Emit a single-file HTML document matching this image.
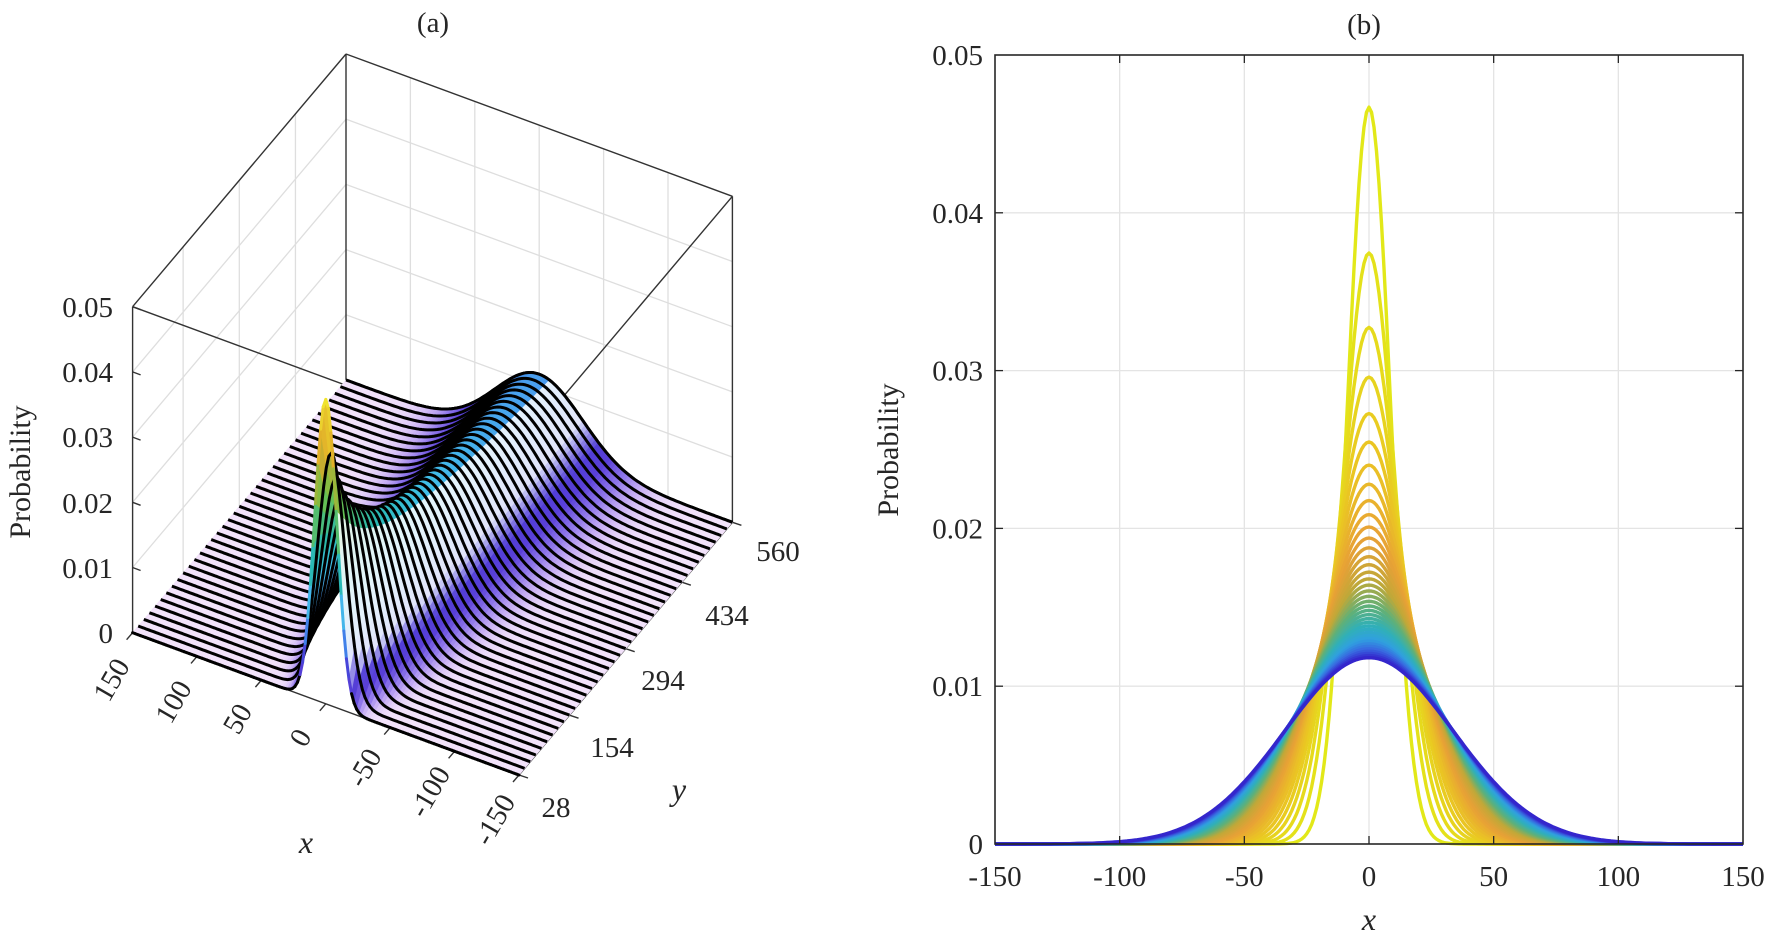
<!DOCTYPE html>
<html><head><meta charset="utf-8">
<style>
html,body{margin:0;padding:0;background:#fff;}
svg{display:block;font-family:"Liberation Serif",serif;}
</style></head>
<body>
<svg id="s" width="1770" height="937" viewBox="0 0 1770 937" xmlns="http://www.w3.org/2000/svg">
<rect width="1770" height="937" fill="#fff"/>
<g id="a"></g>
<g id="b"></g>
<g font-size="29" fill="#262626">
<text x="433" y="32" text-anchor="middle">(a)</text>
<text x="1364" y="34" text-anchor="middle">(b)</text>
<text transform="translate(30,472) rotate(-90)" text-anchor="middle" font-size="30">Probability</text>
<text transform="translate(898,450) rotate(-90)" text-anchor="middle" font-size="30">Probability</text>
<g text-anchor="end">
<text x="113" y="643">0</text>
<text x="113" y="578">0.01</text>
<text x="113" y="513">0.02</text>
<text x="113" y="447">0.03</text>
<text x="113" y="382">0.04</text>
<text x="113" y="317">0.05</text>
</g>
<g text-anchor="middle">
<text transform="translate(112,680) rotate(-60)" dy="9">150</text>
<text transform="translate(174,702) rotate(-60)" dy="9">100</text>
<text transform="translate(238,719) rotate(-60)" dy="9">50</text>
<text transform="translate(301,738) rotate(-60)" dy="9">0</text>
<text transform="translate(365,768) rotate(-60)" dy="9">-50</text>
<text transform="translate(430,792) rotate(-60)" dy="9">-100</text>
<text transform="translate(495,820) rotate(-60)" dy="9">-150</text>
<text x="556" y="817">28</text>
<text x="612" y="757">154</text>
<text x="663" y="690">294</text>
<text x="727" y="625">434</text>
<text x="778" y="561">560</text>
</g>
<text x="306" y="853" text-anchor="middle" font-style="italic" font-size="32">x</text>
<text x="679" y="800" text-anchor="middle" font-style="italic" font-size="32">y</text>
<text x="1369" y="930" text-anchor="middle" font-style="italic" font-size="32">x</text>
</g>
</svg>
<script>
(function(){
var NS="http://www.w3.org/2000/svg";
function el(p,tag,at){var e=document.createElementNS(NS,tag);for(var k in at)e.setAttribute(k,at[k]);p.appendChild(e);return e;}
function hex(h){return [parseInt(h.substr(1,2),16),parseInt(h.substr(3,2),16),parseInt(h.substr(5,2),16)];}
function interp(stops,v){
  if(v<=stops[0][0])return hex(stops[0][1]);
  for(var i=1;i<stops.length;i++){if(v<=stops[i][0]){var a=stops[i-1],b=stops[i],t=(v-a[0])/(b[0]-a[0]);var c1=hex(a[1]),c2=hex(b[1]);return [0,1,2].map(function(k){return c1[k]+(c2[k]-c1[k])*t;});}}
  return hex(stops[stops.length-1][1]);
}
function rgb(c){return "rgb("+Math.round(c[0])+","+Math.round(c[1])+","+Math.round(c[2])+")";}
var N=39;
function s2(i){return 73+1069*Math.pow(i/(N-1),0.9);}
function P(x,i){var s=s2(i);return Math.exp(-x*x/(2*s))/Math.sqrt(2*Math.PI*s);}

/* ---------- panel (a) ---------- */
var A=document.getElementById("a");
function pr(x,v,z){var u=(150-x)/300;return [132.6+386.4*u+213.4*v,632.7+142.3*u-252.7*v-326*z/0.05];}
var gc="#dedede";
for(var k=1;k<=4;k++){
  var a1=pr(150,0,k*0.01),a2=pr(150,1,k*0.01),a3=pr(-150,1,k*0.01);
  el(A,"polyline",{points:a1+" "+a2+" "+a3,fill:"none",stroke:gc,"stroke-width":1.3});
}
[154,294,434].forEach(function(y){var v=(y-28)/532;var p1=pr(150,v,0),p2=pr(150,v,0.05);el(A,"line",{x1:p1[0],y1:p1[1],x2:p2[0],y2:p2[1],stroke:gc,"stroke-width":1.3});});
[100,50,0,-50,-100].forEach(function(x){var p1=pr(x,1,0),p2=pr(x,1,0.05);el(A,"line",{x1:p1[0],y1:p1[1],x2:p2[0],y2:p2[1],stroke:gc,"stroke-width":1.3});});
var bx="#333";
function L(p,q){el(A,"line",{x1:p[0],y1:p[1],x2:q[0],y2:q[1],stroke:bx,"stroke-width":1.4});}
L(pr(150,0,0),pr(150,0,0.05));L(pr(150,1,0),pr(150,1,0.05));L(pr(-150,1,0),pr(-150,1,0.05));L(pr(-150,0,0),pr(-150,0,0.05));
L(pr(150,0,0.05),pr(150,1,0.05));L(pr(150,1,0.05),pr(-150,1,0.05));L(pr(-150,1,0.05),pr(-150,0,0.05));L(pr(-150,0,0.05),pr(150,0,0.05));
L(pr(150,0,0),pr(-150,0,0));L(pr(-150,0,0),pr(-150,1,0));
for(var k=0;k<=5;k++){var p=pr(150,0,k*0.01);L(p,[p[0]+8,p[1]+3]);}
for(var x=150;x>=-150;x-=50){var p=pr(x,0,0);L(p,[p[0]-6,p[1]+7]);}
[28,154,294,434,560].forEach(function(y){var p=pr(-150,(y-28)/532,0);L(p,[p[0]+9,p[1]+3]);});
var cm=[[0,"#f2e2fa"],[0.0006,"#c8b0f4"],[0.0015,"#9078ea"],[0.003,"#5a40d8"],[0.006,"#4a3cd6"],[0.009,"#3a6ce6"],[0.012,"#4aa0ee"],[0.016,"#40c0e8"],[0.021,"#28b8b0"],[0.03,"#6cc048"],[0.038,"#e0a828"],[0.047,"#f2ea30"]];
var xs=[];for(var x=150;x>=-150.001;x-=2)xs.push(x);
var curves=[];
for(var i=0;i<N;i++){var v=i/(N-1);curves.push(xs.map(function(x){var z=P(x,i);return {x:x,z:z,p:pr(x,v,z)};}));}
function line(i,col){var pts=curves[i].map(function(o){return o.p[0].toFixed(1)+","+o.p[1].toFixed(1);}).join(" ");el(A,"polyline",{points:pts,fill:"none",stroke:col,"stroke-width":3,"stroke-linejoin":"round"});}
line(N-1,"#000");
for(var i=N-2;i>=0;i--){
  var c0=curves[i],c1=curves[i+1];
  var g=el(A,"g",{});
  for(var j=0;j<xs.length-1;j++){
    var z=(c0[j].z+c0[j+1].z+c1[j].z+c1[j+1].z)/4;
    var c=interp(cm,z);
    var xm=xs[j];
    if(xm<-6){var w=Math.max(0,Math.min(0.85,(z-0.0045)*300));c=c.map(function(q){return q+(255-q)*w;});}
    var pts=[c0[j].p,c0[j+1].p,c1[j+1].p,c1[j].p].map(function(p){return p[0].toFixed(1)+","+p[1].toFixed(1);}).join(" ");
    var col=rgb(c);
    el(g,"polygon",{points:pts,fill:col,stroke:col,"stroke-width":0.6});
  }
  line(i+1,"#000");
}
(function(){var c0=curves[0];for(var j=0;j<c0.length-1;j++){var z=(c0[j].z+c0[j+1].z)/2;var col=z>0.004?rgb(interp(cm,z)):"#000";el(A,"line",{x1:c0[j].p[0],y1:c0[j].p[1],x2:c0[j+1].p[0],y2:c0[j+1].p[1],stroke:col,"stroke-width":3,"stroke-linecap":"round"});}})();

/* ---------- panel (b) ---------- */
var B=document.getElementById("b");
var X0=995,X1=1743,Y0=55,Y1=844;
function px(x){return X0+(x+150)/300*(X1-X0);}
function py(p){return Y1-p/0.05*(Y1-Y0);}
for(var x=-100;x<=100;x+=50)el(B,"line",{x1:px(x),y1:Y0,x2:px(x),y2:Y1,stroke:"#e4e4e4","stroke-width":1.3});
for(var k=1;k<=4;k++)el(B,"line",{x1:X0,y1:py(k*0.01),x2:X1,y2:py(k*0.01),stroke:"#e4e4e4","stroke-width":1.3});
var cb=[[0,"#e2e818"],[0.12,"#eac822"],[0.28,"#e8a036"],[0.42,"#c0a838"],[0.55,"#60b078"],[0.68,"#30b0b8"],[0.8,"#30a0e0"],[0.9,"#3868e0"],[1,"#3426cc"]];
for(var i=0;i<N;i++){var pts=[];for(var x=-150;x<=150.001;x+=1){pts.push(px(x).toFixed(1)+","+py(P(x,i)).toFixed(1));}
  el(B,"polyline",{points:pts.join(" "),fill:"none",stroke:rgb(interp(cb,i/(N-1))),"stroke-width":3.4,"stroke-linejoin":"round"});}
el(B,"rect",{x:X0,y:Y0,width:X1-X0,height:Y1-Y0,fill:"none",stroke:"#262626","stroke-width":1.6});
var tg=el(B,"g",{"font-size":"29",fill:"#262626"});
for(var x=-150;x<=150;x+=50){
  if(x>-150&&x<150){el(B,"line",{x1:px(x),y1:Y1,x2:px(x),y2:Y1-8,stroke:"#262626","stroke-width":1.3});el(B,"line",{x1:px(x),y1:Y0,x2:px(x),y2:Y0+8,stroke:"#262626","stroke-width":1.3});}
  var t=el(tg,"text",{x:px(x),y:886,"text-anchor":"middle"});t.textContent=String(x);
}
var yl=["0","0.01","0.02","0.03","0.04","0.05"];
for(var k=0;k<=5;k++){
  if(k>0&&k<5){el(B,"line",{x1:X0,y1:py(k*0.01),x2:X0+8,y2:py(k*0.01),stroke:"#262626","stroke-width":1.3});el(B,"line",{x1:X1,y1:py(k*0.01),x2:X1-8,y2:py(k*0.01),stroke:"#262626","stroke-width":1.3});}
  var t=el(tg,"text",{x:983,y:py(k*0.01)+10,"text-anchor":"end"});t.textContent=yl[k];
}
})();
</script>
</body></html>
